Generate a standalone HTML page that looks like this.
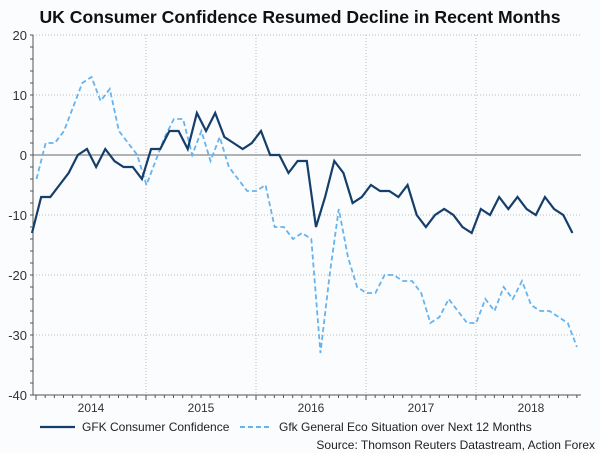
<!DOCTYPE html>
<html><head><meta charset="utf-8"><style>
body{margin:0;background:#fff;}
svg{display:block;font-family:"Liberation Sans",Arial,sans-serif;}
</style></head><body>
<svg id="chart" width="600" height="453" viewBox="0 0 600 453">
<rect x="0" y="0" width="600" height="453" fill="#fbfcfd"/>
<text x="300" y="23" text-anchor="middle" font-size="17.6" font-weight="bold" fill="#111">UK Consumer Confidence Resumed Decline in Recent Months</text>
<g id="grid"></g>
<g id="axes"></g>
<g id="series"></g>
<g>
<line x1="40" y1="427" x2="75" y2="427" stroke="#163e6a" stroke-width="2.2"/>
<text x="82" y="431" font-size="12" fill="#222">GFK Consumer Confidence</text>
<line x1="240" y1="427" x2="272" y2="427" stroke="#66b3ee" stroke-width="2" stroke-dasharray="5,3"/>
<text x="279" y="431" font-size="12" fill="#222">Gfk General Eco Situation over Next 12 Months</text>
</g>
<text x="595" y="449" text-anchor="end" font-size="12" fill="#222">Source: Thomson Reuters Datastream, Action Forex</text>
</svg>
<script>
const consumerConfidence=[-13,-7,-7,-5,-3,0,1,-2,1,-1,-2,-2,-4,1,1,4,4,1,7,4,7,3,2,1,2,4,0,0,-3,-1,-1,-12,-7,-1,-3,-8,-7,-5,-6,-6,-7,-5,-10,-12,-10,-9,-10,-12,-13,-9,-10,-7,-9,-7,-9,-10,-7,-9,-10,-13];
const ecoSituation=[-4,2,2,4,8,12,13,9,11,4,2,0,-5,-1,3,6,6,0,4,-1,3,-2,-4,-6,-6,-5,-12,-12,-14,-13,-14,-33,-20,-9,-17,-22,-23,-23,-20,-20,-21,-21,-23,-28,-27,-24,-26,-28,-28,-24,-26,-22,-24,-21,-25,-26,-26,-27,-28,-32];
const yTicks=[20,10,0,-10,-20,-30,-40];
const years=["2014","2015","2016","2017","2018"];
const NS="http://www.w3.org/2000/svg";
const L=33,R=581,T=35,B=395;
function y(v){return T+(20-v)*(B-T)/60;}
function x(i){return 32+i*9.16;}
function mk(tag,attrs,parent){const e=document.createElementNS(NS,tag);for(const k in attrs)e.setAttribute(k,attrs[k]);document.getElementById(parent).appendChild(e);return e;}
yTicks.forEach(v=>{
  if(v!==-40&&v!==0){const g=mk('line',{x1:L,x2:R,y1:y(v),y2:y(v),stroke:'#bbb','stroke-width':1,'stroke-dasharray':'1,2'},'grid');
  
  }
  const t=mk('text',{x:27,y:y(v)+5,'text-anchor':'end','font-size':13,fill:'#333'},'axes');t.textContent=v;
  
  
});
for(let v=-40;v<=20;v+=2){const tk=mk('line',{x1:L-3,x2:L,y1:y(v),y2:y(v),stroke:'#555','stroke-width':1},'axes');
  
  }
years.forEach((yr,k)=>{
  const gx=36+k*110;
  if(k>0){const g=mk('line',{x1:gx,x2:gx,y1:T,y2:B,stroke:'#bbb','stroke-width':1,'stroke-dasharray':'1,2'},'grid');
  
  }
  const t=mk('text',{x:gx+55,y:412,'text-anchor':'middle','font-size':12,fill:'#333'},'axes');t.textContent=yr;
  
  
});
for(let m=0;m<60;m++){const gx=36+m*110/12;const tk=mk('line',{x1:gx,x2:gx,y1:B,y2:B+(m%12===0?5:3),stroke:'#555','stroke-width':1},'axes');
  
  }
const zl=mk('line',{x1:L,x2:R,y1:y(0),y2:y(0),stroke:'#999','stroke-width':1.5},'grid');


const ax=mk('line',{x1:L,x2:L,y1:T,y2:B,stroke:'#555','stroke-width':1},'axes');


const bx=mk('line',{x1:L,x2:R,y1:B,y2:B,stroke:'#555','stroke-width':1},'axes');


const p2=mk('polyline',{points:ecoSituation.map((v,i)=>(x(i)+4.5)+','+y(v)).join(' '),fill:'none',stroke:'#66b3ee','stroke-width':1.8,'stroke-dasharray':'5,3'},'series');


const p1=mk('polyline',{points:consumerConfidence.map((v,i)=>x(i)+','+y(v)).join(' '),fill:'none',stroke:'#163e6a','stroke-width':2.2,'stroke-linejoin':'miter'},'series');


</script>
</body></html>
